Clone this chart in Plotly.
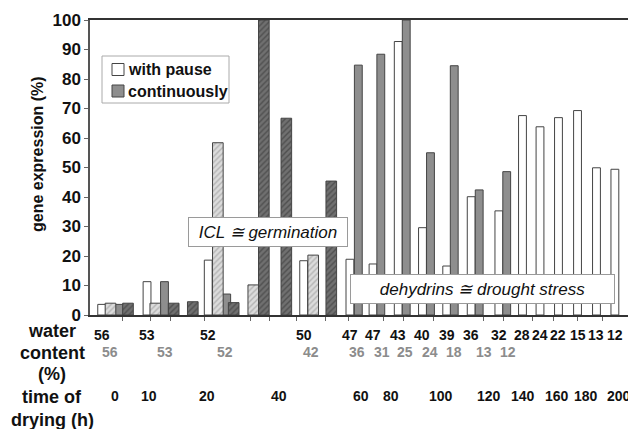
import plotly.graph_objects as go

# ---------------- data ----------------
# x positions are sample positions on the (unlabelled) sample axis
pause_x = [1.46, 7.13, 14.78, 26.71, 32.49, 35.38, 38.53, 41.56, 44.59, 47.65,
           51.11, 54.06, 56.25, 58.56, 60.94, 63.31, 65.61]
pause_dehydrin = [3.6, 11.3, 18.6, 18.4, 18.9, 17.3, 92.7, 29.6, 16.6, 40.1,
                  35.3, 67.6, 63.8, 66.9, 69.3, 49.9, 49.4]
pause_water = [56, 53, 52, 50, 47, 47, 43, 40, 39, 36, 32, 28, 24, 22, 15, 13, 12]

cont_x = [3.66, 9.31, 17.09, 33.54, 36.35, 39.53, 42.56, 45.53, 48.65, 52.09]
cont_dehydrin = [3.6, 11.3, 7.1, 84.7, 88.4, 100, 55.0, 84.5, 42.4, 48.6]

cont_water = [56, 53, 52, 42, 36, 31, 25, 24, 18, 13, 12]
cont_water_x = [2.5, 9.38, 16.88, 27.63, 33.38, 36.5, 39.38, 42.5, 45.5, 49.25, 52.25]

pause_icl_x = [2.56, 8.16, 15.98, 20.41, 27.9]
pause_icl = [4.0, 4.0, 58.4, 10.2, 20.3]

cont_icl_x = [4.75, 10.46, 12.85, 17.96, 21.73, 24.54, 30.16]
cont_icl = [4.0, 4.0, 4.5, 4.2, 100, 66.7, 45.4]

time_h = [0, 10, 20, 40, 60, 80, 100, 120, 140, 160, 180, 200]
time_x = [3.13, 7.38, 14.63, 23.63, 33.88, 37.63, 43.88, 49.88, 54.13, 58.38, 62.0, 66.13]

tick_marks = [4.09, 7.59, 10.0, 14.25, 20.0, 22.38, 25.84, 29.38, 32.25, 36.63,
              39.13, 42.88, 49.13, 51.63, 55.25, 57.88, 60.88, 64.0]

legend_names = ["with pause", "continuously"]
legend_fills = ["white", "#8e8e8e"]

# ---------------- figure ----------------
FONT = "Liberation Sans"
OUT = "#444444"
SOLID_W = 0.98
HATCH_W = 1.33

fig = go.Figure()
fig.add_trace(go.Bar(x=pause_x, y=pause_dehydrin, width=SOLID_W, name=legend_names[0],
                     showlegend=False,
                     marker=dict(color=legend_fills[0], line=dict(color=OUT, width=1))))
fig.add_trace(go.Bar(x=cont_x, y=cont_dehydrin, width=SOLID_W, name=legend_names[1],
                     showlegend=False,
                     marker=dict(color=legend_fills[1], line=dict(color=OUT, width=1))))
fig.add_trace(go.Bar(x=pause_icl_x, y=pause_icl, width=HATCH_W, showlegend=False,
                     name="ICL with pause",
                     marker=dict(color="#d8d8d8", line=dict(color=OUT, width=1),
                                 pattern=dict(shape="/", fgcolor="#8a8a8a", bgcolor="#dcdcdc",
                                              size=4, solidity=0.35))))
fig.add_trace(go.Bar(x=cont_icl_x, y=cont_icl, width=HATCH_W, showlegend=False,
                     name="ICL continuously",
                     marker=dict(color="#6e6e6e", line=dict(color=OUT, width=1),
                                 pattern=dict(shape="/", fgcolor="#2e2e2e", bgcolor="#707070",
                                              size=4, solidity=0.35))))

# plot area in pixels: x 90..628, y 20..315
def px(xp):
    return (xp - 90) / 538.0

def py(yp):
    return (315 - yp) / 295.0

ann = []
# water content rows
for xv, w in zip(pause_x, pause_water):
    ann.append(dict(x=xv, y=py(335), xref="x", yref="paper", text=f"<b>{w}</b>", showarrow=False,
                    font=dict(size=14, color="#111", family=FONT), xanchor="center", yanchor="middle"))
for xv, w in zip(cont_water_x, cont_water):
    ann.append(dict(x=xv, y=py(352), xref="x", yref="paper", text=f"<b>{w}</b>", showarrow=False,
                    font=dict(size=14, color="#8c8c8c", family=FONT), xanchor="center", yanchor="middle"))
for xv, t in zip(time_x, time_h):
    ann.append(dict(x=xv, y=py(396), xref="x", yref="paper", text=f"<b>{t}</b>", showarrow=False,
                    font=dict(size=14, color="#111", family=FONT), xanchor="center", yanchor="middle"))

# left row labels
left_lines = [("water", 331.5), ("content", 352.5), ("(%)", 374), ("time of", 397), ("drying (h)", 420)]
for txt, yy in left_lines:
    ann.append(dict(x=px(52), y=py(yy), xref="paper", yref="paper",
                    text=f"<b>{txt}</b>", showarrow=False, xanchor="center", yanchor="middle",
                    font=dict(size=18, color="#111", family=FONT)))

# y axis title
ann.append(dict(x=px(37), y=py(154), xref="paper", yref="paper", text="<b>gene expression (%)</b>",
                textangle=-90, showarrow=False, xanchor="center", yanchor="middle",
                font=dict(size=16, color="#111", family=FONT)))

# legend text
for name, yy in zip(legend_names, [69, 91]):
    ann.append(dict(x=px(126), y=py(yy), xref="paper", yref="paper", text=f"<b>{name}</b>",
                    showarrow=False, xanchor="left", yanchor="middle",
                    font=dict(size=16, color="#111", family=FONT)))

# boxed annotations
ann.append(dict(x=22.25, y=28.1, xref="x", yref="y", text="<i>ICL ≅ germination</i>",
                showarrow=False, bgcolor="white", bordercolor="#9a9a9a", borderwidth=1,
                borderpad=2, width=154, height=24,
                font=dict(size=17, color="#111", family=FONT)))
ann.append(dict(x=49.1, y=8.8, xref="x", yref="y", text="<i>dehydrins ≅ drought stress</i>",
                showarrow=False, bgcolor="white", bordercolor="#9a9a9a", borderwidth=1,
                borderpad=2, width=259, height=24,
                font=dict(size=17, color="#111", family=FONT)))

# legend frame and swatches
shapes = [dict(type="rect", xref="paper", yref="paper", x0=px(102), x1=px(229), y0=py(103), y1=py(56),
               line=dict(color="#aaaaaa", width=1), fillcolor="white", layer="above")]
for fill, yy in zip(legend_fills, [69.5, 91]):
    shapes.append(dict(type="rect", xref="paper", yref="paper", x0=px(112), x1=px(124),
                       y0=py(yy + 6), y1=py(yy - 6), line=dict(color=OUT, width=1),
                       fillcolor=fill, layer="above"))

fig.update_layout(
    width=628, height=429,
    margin=dict(l=90, r=0, t=20, b=114),
    barmode="overlay",
    showlegend=False,
    plot_bgcolor="white", paper_bgcolor="white",
    font=dict(family=FONT, color="#111"),
    annotations=ann,
    shapes=shapes,
    xaxis=dict(range=[0, 67.25], showline=True, linecolor="#333", linewidth=1.5, mirror=True,
               showgrid=False, zeroline=False, tickvals=tick_marks, ticks="outside",
               ticklen=4, tickcolor="#666", showticklabels=False),
    yaxis=dict(range=[0, 100], dtick=10, showline=True, linecolor="#555", linewidth=1.5,
               showgrid=False, zeroline=False, ticks="outside", ticklen=4, tickcolor="#666",
               tickfont=dict(size=17, color="#111", family=FONT, weight=700)),
)

fig.write_html("out.html")
